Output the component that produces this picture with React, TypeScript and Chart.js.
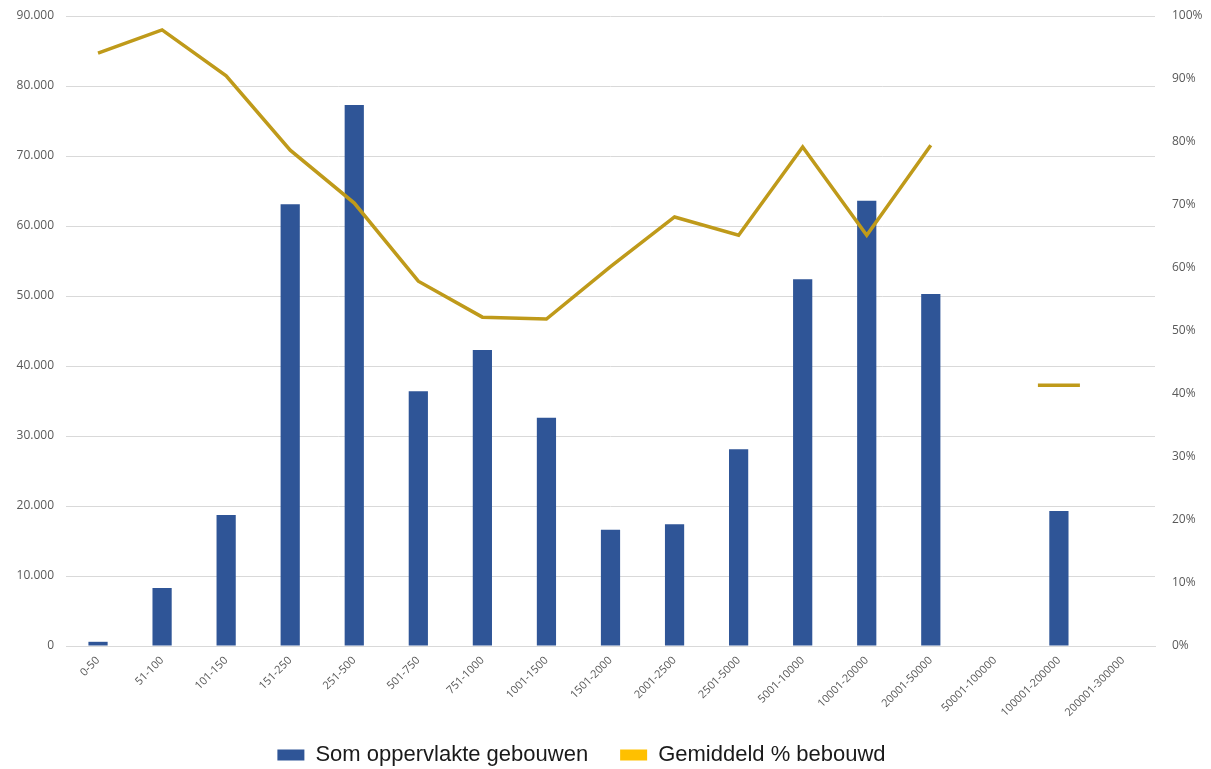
import React, { useEffect, useRef } from "react";
import { Chart, registerables } from "chart.js";

Chart.register(...registerables);

const categories = [
  "0-50", "51-100", "101-150", "151-250", "251-500", "501-750", "751-1000",
  "1001-1500", "1501-2000", "2001-2500", "2501-5000", "5001-10000",
  "10001-20000", "20001-50000", "50001-100000", "100001-200000", "200001-300000",
];

const somOppervlakte = [
  600, 8300, 18700, 63100, 77300, 36400, 42300, 32600, 16600, 17400, 28100,
  52400, 63600, 50300, 0, 19300, 0,
];

const gemiddeldPct = [
  94.1, 97.8, 90.5, 78.7, 70.3, 57.9, 52.2, 51.9, 60.2, 68.1, 65.2, 79.2,
  65.2, 79.5, null, 41.4, null,
];

const barLabel = "Som oppervlakte gebouwen";
const lineLabel = "Gemiddeld % bebouwd";

const legendShift = {
  id: "legendShift",
  afterLayout(chart: any) {
    const lg = chart.legend;
    if (!lg) return;
    lg.left -= 24;
    lg.right -= 24;
    lg.top -= 14;
    lg.bottom -= 14;
  },
};

export default function App() {
  const ref = useRef<HTMLCanvasElement | null>(null);

  useEffect(() => {
    if (!ref.current) return;
    const isolated = gemiddeldPct.map((v, i) => {
      const prev = i > 0 ? gemiddeldPct[i - 1] : null;
      const next = i < gemiddeldPct.length - 1 ? gemiddeldPct[i + 1] : null;
      return v !== null && prev === null && next === null;
    });
    const chart = new Chart(ref.current, {
      type: "bar",
      plugins: [legendShift],
      data: {
        labels: categories,
        datasets: [
          {
            type: "line",
            label: lineLabel,
            data: gemiddeldPct,
            yAxisID: "y1",
            borderColor: "#BF9A1A",
            backgroundColor: "#FFC000",
            borderWidth: 3.5,
            tension: 0,
            spanGaps: false,
            pointStyle: "line",
            pointRadius: isolated.map((b) => (b ? 21 : 0)),
            pointBorderWidth: 3.5,
            pointBorderColor: "#BF9A1A",
            pointHoverRadius: 0,
            order: 0,
          } as any,
          {
            type: "bar",
            label: barLabel,
            data: somOppervlakte,
            yAxisID: "y",
            backgroundColor: "#2F5597",
            barPercentage: 0.3,
            categoryPercentage: 1,
            order: 1,
          },
        ],
      },
      options: {
        animation: false,
        responsive: true,
        maintainAspectRatio: false,
        layout: { autoPadding: false, padding: { top: 16, bottom: 2, left: 0, right: 0 } },
        plugins: {
          tooltip: { enabled: false },
          legend: {
            position: "bottom",
            reverse: true,
            labels: {
              boxWidth: 27,
              boxHeight: 11,
              padding: 32,
              color: "#1a1a1a",
              font: { family: "Liberation Sans", size: 22 },
              generateLabels: (c: any) => {
                const items = Chart.defaults.plugins.legend.labels.generateLabels(c);
                return items.map((it: any) => {
                  const col = it.datasetIndex === 0 ? "#FFC000" : "#2F5597";
                  return { ...it, fillStyle: col, strokeStyle: col, lineWidth: 0 };
                });
              },
            },
          },
        },
        scales: {
          x: {
            grid: { display: false, drawTicks: false },
            border: { display: true, color: "#D9D9D9", width: 1 },
            ticks: {
              maxRotation: 45,
              minRotation: 45,
              padding: 8,
              color: "#595959",
              font: { family: "Open Sans", size: 11 },
              autoSkip: false,
            },
            afterFit: (s: any) => {
              s.height = 80;
            },
          },
          y: {
            position: "left",
            min: 0,
            max: 90000,
            grid: { color: "#D9D9D9", drawTicks: false },
            border: { display: false },
            ticks: {
              stepSize: 10000,
              padding: 12,
              color: "#595959",
              font: { family: "Open Sans", size: 12 },
              callback: (v: any) => (v === 0 ? "0" : Number(v).toLocaleString("de-DE")),
            },
            afterFit: (s: any) => {
              s.width = 66;
              s.paddingTop = 0;
              s.paddingBottom = 0;
            },
          },
          y1: {
            position: "right",
            min: 0,
            max: 100,
            grid: { display: false, drawTicks: false },
            border: { display: false },
            ticks: {
              stepSize: 10,
              padding: 17,
              color: "#595959",
              font: { family: "Open Sans", size: 12 },
              callback: (v: any) => `${v}%`,
            },
            afterFit: (s: any) => {
              s.width = 56;
              s.paddingTop = 0;
              s.paddingBottom = 0;
            },
          },
        },
      },
    });
    return () => chart.destroy();
  }, []);

  return (
    <div style={{ position: "fixed", left: 0, top: 0, width: 1211, height: 792, background: "#fff" }}>
      <canvas ref={ref} />
    </div>
  );
}
